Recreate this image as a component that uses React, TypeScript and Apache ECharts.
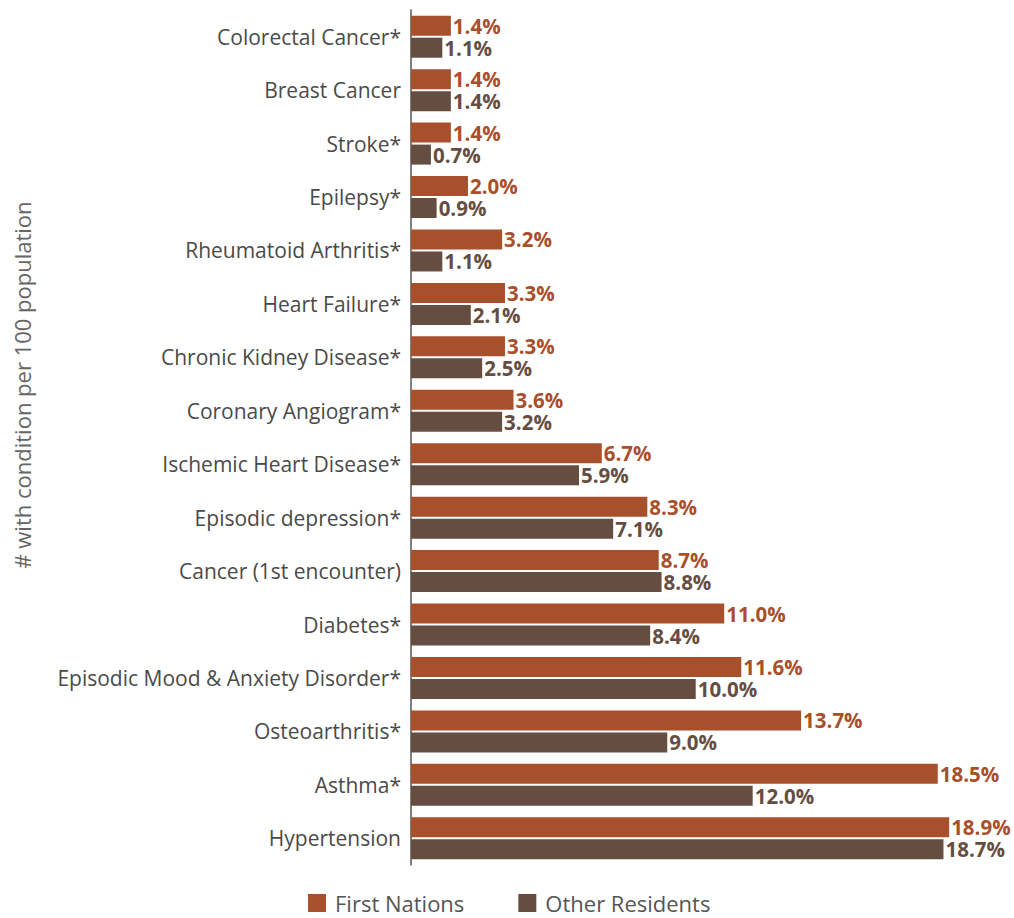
import React, { useEffect, useRef } from "react";
import * as echarts from "echarts";

const categories = [
  "Colorectal Cancer*",
  "Breast Cancer",
  "Stroke*",
  "Epilepsy*",
  "Rheumatoid Arthritis*",
  "Heart Failure*",
  "Chronic Kidney Disease*",
  "Coronary Angiogram*",
  "Ischemic Heart Disease*",
  "Episodic depression*",
  "Cancer (1st encounter)",
  "Diabetes*",
  "Episodic Mood & Anxiety Disorder*",
  "Osteoarthritis*",
  "Asthma*",
  "Hypertension",
];
const firstNations = [1.4, 1.4, 1.4, 2.0, 3.2, 3.3, 3.3, 3.6, 6.7, 8.3, 8.7, 11.0, 11.6, 13.7, 18.5, 18.9];
const otherResidents = [1.1, 1.4, 0.7, 0.9, 1.1, 2.1, 2.5, 3.2, 5.9, 7.1, 8.8, 8.4, 10.0, 9.0, 12.0, 18.7];
const yTitle = "# with condition per 100 population";

const FN_COLOR = "#A84F2C";
const OR_COLOR = "#654E41";
const FONT = "'Open Sans', sans-serif";

export default function App() {
  const ref = useRef<HTMLDivElement>(null);
  useEffect(() => {
    if (!ref.current) return;
    const chart = echarts.init(ref.current, undefined, { renderer: "svg" });
    const label = (color: string) => ({
      show: true,
      position: "right" as const,
      distance: 2,
      color,
      fontWeight: "bold" as const,
      fontSize: 20.5,
      lineHeight: 20,
      fontFamily: FONT,
      formatter: (p: any) => Number(p.value).toFixed(1) + "%",
    });
    chart.setOption({
      animation: false,
      textStyle: { fontFamily: FONT },
      grid: { left: 411, top: 10, bottom: 53, width: 541, containLabel: false },
      xAxis: {
        type: "value",
        min: 0,
        max: 19,
        show: false,
      },
      yAxis: {
        type: "category",
        data: categories,
        inverse: true,
        axisLine: { show: true, lineStyle: { color: "#555555", width: 1.5 } },
        axisTick: { show: false },
        axisLabel: { fontSize: 21, color: "#4a4a4a", margin: 10, fontFamily: FONT },
      },
      graphic: [
        {
          type: "text",
          x: 22,
          y: 385,
          rotation: Math.PI / 2,
          style: {
            text: yTitle,
            fontSize: 22,
            fill: "#666666",
            fontFamily: FONT,
            align: "center",
            verticalAlign: "middle",
          },
        },
      ],
      legend: {
        top: 887,
        left: 303,
        itemWidth: 18,
        itemHeight: 18,
        itemGap: 54,
        icon: "rect",
        textStyle: {
          fontSize: 22,
          lineHeight: 22,
          color: "#555555",
          fontFamily: FONT,
          padding: [0, 0, 0, 4],
        },
        data: ["First Nations", "Other Residents"],
      },
      series: [
        {
          name: "First Nations",
          type: "bar",
          data: firstNations,
          barWidth: 20,
          barGap: "10%",
          itemStyle: { color: FN_COLOR },
          label: label(FN_COLOR),
        },
        {
          name: "Other Residents",
          type: "bar",
          data: otherResidents,
          barWidth: 20,
          barGap: "10%",
          itemStyle: { color: OR_COLOR },
          label: label(OR_COLOR),
        },
      ],
    });
    return () => chart.dispose();
  }, []);
  return (
    <div
      ref={ref}
      style={{ position: "absolute", left: 0, top: 0, width: 1014, height: 918 }}
    />
  );
}
